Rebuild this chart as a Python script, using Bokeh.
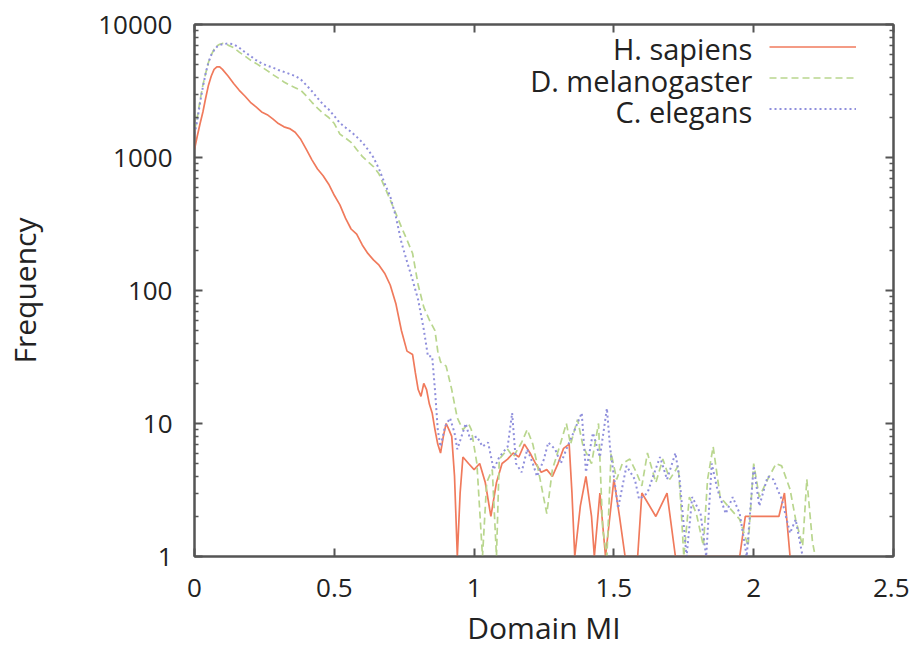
from bokeh.plotting import figure
from bokeh.models import (Range1d, FixedTicker, LinearAxis, LogAxis, Legend,
                          LegendItem, Label)
from bokeh.embed import file_html
from bokeh.resources import INLINE

# ---------------- data ----------------
series_names = ["H. sapiens", "D. melanogaster", "C. elegans"]

hs_x = [0.00, 0.01, 0.02, 0.03, 0.04, 0.05, 0.06, 0.07, 0.08, 0.09, 0.10,
        0.12, 0.14, 0.16, 0.18, 0.20, 0.22, 0.24, 0.26, 0.28, 0.30, 0.32,
        0.34, 0.36, 0.38, 0.40, 0.42, 0.44, 0.46, 0.48, 0.50, 0.52, 0.54,
        0.56, 0.58, 0.60, 0.62, 0.64, 0.66, 0.68, 0.70, 0.72, 0.74, 0.76,
        0.78, 0.79, 0.80, 0.81, 0.82, 0.83, 0.84, 0.85, 0.86, 0.87, 0.88,
        0.89, 0.90, 0.91, 0.92, 0.93, 0.94, 0.95, 0.96, 0.98, 1.00, 1.02,
        1.04, 1.06, 1.08, 1.10, 1.12, 1.14, 1.16, 1.18, 1.20, 1.22, 1.24,
        1.26, 1.28, 1.30, 1.32, 1.34, 1.35, 1.36, 1.38, 1.40, 1.42, 1.43,
        1.45, 1.47, 1.50, 1.52, 1.54, 1.585, 1.60, 1.65, 1.69, 1.72, 1.95,
        1.97, 2.09, 2.11, 2.13]
hs_y = [1150, 1450, 1800, 2200, 2800, 3500, 4100, 4600, 4800, 4800, 4600,
        4100, 3600, 3200, 2900, 2600, 2400, 2200, 2100, 1950, 1800, 1700,
        1650, 1550, 1370, 1150, 960, 820, 730, 630, 520, 440, 350,
        290, 265, 220, 190, 170, 155, 135, 110, 80, 50, 35,
        33, 24, 18, 16, 20, 18, 14, 12, 9, 7, 6,
        8, 10, 9, 8, 4, 1, 3, 5.6, 5, 4.5, 5,
        3.6, 2, 3.6, 5, 5.4, 6, 5.6, 7, 6, 5, 4.3,
        4.5, 4, 5, 6.5, 7, 3, 1, 2.4, 4, 2, 1,
        3, 1, 3.8, 2, 1, 1, 3, 2, 3, 1, 1,
        2, 2, 3, 1]

dm_x = [0.00, 0.01, 0.02, 0.03, 0.04, 0.05, 0.06, 0.07, 0.08, 0.09, 0.10,
        0.11, 0.12, 0.14, 0.16, 0.18, 0.20, 0.22, 0.24, 0.26, 0.28, 0.30,
        0.32, 0.34, 0.36, 0.38, 0.40, 0.42, 0.44, 0.46, 0.48, 0.50, 0.52,
        0.54, 0.56, 0.58, 0.60, 0.62, 0.64, 0.66, 0.68, 0.70, 0.72, 0.74,
        0.76, 0.78, 0.80, 0.82, 0.84, 0.86, 0.87, 0.88, 0.90, 0.92, 0.93,
        0.94, 0.96, 0.98, 0.99, 1.01, 1.03, 1.045, 1.065, 1.08, 1.09, 1.12,
        1.14, 1.17, 1.19, 1.21, 1.225, 1.26, 1.28, 1.31, 1.33, 1.345, 1.37,
        1.39, 1.42, 1.445, 1.46, 1.475, 1.49, 1.51, 1.53, 1.557, 1.58, 1.60,
        1.62, 1.65, 1.675, 1.70, 1.73, 1.74, 1.75, 1.77, 1.795, 1.82, 1.835,
        1.855, 1.88, 1.915, 1.95, 1.98, 2.00, 2.02, 2.05, 2.08, 2.10, 2.13,
        2.15, 2.175, 2.19, 2.21, 2.22]
dm_y = [1600, 2000, 2700, 3500, 4300, 5200, 5900, 6500, 6900, 7100, 7200,
        7200, 7000, 6700, 6200, 5800, 5400, 5100, 4800, 4500, 4200, 3950,
        3700, 3500, 3350, 3200, 2900, 2600, 2350, 2150, 2000, 1800, 1500,
        1400, 1300, 1150, 1020, 930, 855, 750, 600, 480, 380, 300,
        240, 190, 110, 75, 60, 50, 35, 29, 27, 18, 14,
        11, 9, 10, 9, 5, 1, 3.6, 4.5, 1, 5.4, 6.4,
        5.6, 7.2, 9, 7, 5, 2.1, 4.5, 7.2, 10, 7, 10.7,
        6.7, 5, 10, 1.6, 1, 6, 3.8, 5, 5.4, 4.3, 3.4,
        6, 3.6, 5.4, 3.8, 4.8, 2.4, 1, 2.8, 2.1, 1.2, 3.8,
        6.7, 2.8, 2.3, 1.9, 1.2, 5, 2.8, 3.8, 5, 4.8, 3.2,
        1.9, 1.2, 3.8, 1.3, 1]

ce_x = [0.00, 0.01, 0.02, 0.03, 0.04, 0.05, 0.06, 0.07, 0.08, 0.09, 0.10,
        0.12, 0.14, 0.16, 0.18, 0.20, 0.22, 0.24, 0.26, 0.28, 0.30, 0.32,
        0.34, 0.36, 0.38, 0.40, 0.42, 0.44, 0.46, 0.48, 0.50, 0.52, 0.54,
        0.56, 0.58, 0.60, 0.62, 0.64, 0.66, 0.68, 0.70, 0.72, 0.74, 0.76,
        0.78, 0.80, 0.82, 0.835, 0.85, 0.86, 0.87, 0.88, 0.896, 0.914, 0.93,
        0.94, 0.97, 0.986, 1.01, 1.03, 1.05, 1.07, 1.09, 1.12, 1.136, 1.15,
        1.17, 1.19, 1.21, 1.225, 1.25, 1.265, 1.29, 1.31, 1.33, 1.355, 1.385,
        1.40, 1.425, 1.45, 1.475, 1.486, 1.515, 1.545, 1.575, 1.59, 1.62, 1.64,
        1.665, 1.69, 1.72, 1.735, 1.76, 1.78, 1.81, 1.83, 1.85, 1.87, 1.90,
        1.925, 1.95, 1.975, 2.00, 2.02, 2.05, 2.07, 2.10, 2.13, 2.15, 2.175]
ce_y = [1500, 1900, 2600, 3400, 4300, 5200, 5900, 6400, 6800, 7000, 7100,
        7200, 7100, 6700, 6200, 5800, 5400, 5100, 4900, 4750, 4550, 4400,
        4250, 4100, 3870, 3500, 3150, 2800, 2500, 2300, 2050, 1820, 1680,
        1560, 1430, 1300, 1150, 1000, 820, 640, 510, 360, 230, 165,
        120, 85, 51, 32, 32, 18, 9, 6.7, 9.5, 11, 8.5,
        6.4, 10, 7.6, 8, 6.7, 7.2, 4.5, 5.6, 6.7, 12, 5,
        4.3, 6.4, 5, 4, 5.4, 7.2, 6.4, 5, 6.4, 8.5, 12,
        4.3, 8.5, 5.6, 13, 6.7, 2.3, 4.8, 3.8, 2.7, 3, 4,
        5.6, 3.8, 6, 3.8, 1, 2.8, 2.1, 1, 5, 3.2, 2.1,
        2.8, 2.1, 1, 4.8, 2.4, 4, 3.8, 2.7, 1.5, 1.9, 1]

x_ticks = [0, 0.5, 1, 1.5, 2, 2.5]
x_tick_labels = ["0", "0.5", "1", "1.5", "2", "2.5"]
y_ticks = [1, 10, 100, 1000, 10000]
y_tick_labels = ["1", "10", "100", "1000", "10000"]
y_minor = [m * d for d in (1, 10, 100, 1000) for m in range(2, 10)]

# ---------------- figure ----------------
FONT = "Open Sans"
TXT = "#222222"
AX = "#555555"

p = figure(width=909, height=651, output_backend="svg", toolbar_location=None,
           x_range=Range1d(0, 2.5), y_range=Range1d(1, 10000),
           y_axis_type="log",
           min_border_left=194, min_border_right=16,
           min_border_top=24, min_border_bottom=95)
p.grid.visible = False
p.outline_line_color = AX
p.outline_line_width = 2
p.background_fill_color = "white"
p.border_fill_color = "white"

xt = FixedTicker(ticks=x_ticks)
yt = FixedTicker(ticks=y_ticks, minor_ticks=y_minor)

xa = p.xaxis[0]
xa.ticker = xt
xa.major_label_overrides = {t: s for t, s in zip(x_ticks, x_tick_labels)}
ya = p.yaxis[0]
ya.ticker = yt
ya.major_label_overrides = {t: s for t, s in zip(y_ticks, y_tick_labels)}

for ax in (xa, ya):
    ax.axis_line_color = AX
    ax.axis_line_width = 2
    ax.major_tick_line_color = AX
    ax.major_tick_line_width = 2
    ax.minor_tick_line_color = AX
    ax.minor_tick_line_width = 1.5
    ax.major_tick_in = 8
    ax.major_tick_out = 0
    ax.minor_tick_in = 4
    ax.minor_tick_out = 0
    ax.major_label_text_font = FONT
    ax.major_label_text_font_size = "26px"
    ax.major_label_text_color = TXT
    ax.axis_label_text_font = FONT
    ax.axis_label_text_font_size = "30px"
    ax.axis_label_text_font_style = "normal"
    ax.axis_label_text_color = TXT
xa.minor_tick_line_color = None
xa.major_label_standoff = 22
ya.major_label_standoff = 22
xa.axis_label = "Domain MI"
ya.axis_label = "Frequency"
xa.axis_label_standoff = 7
ya.axis_label_standoff = 50

top = LinearAxis(ticker=xt, major_label_overrides={t: "" for t in x_ticks},
                 major_label_standoff=0, axis_line_color=AX, axis_line_width=2,
                 major_tick_line_color=AX, major_tick_line_width=2,
                 major_tick_in=8, major_tick_out=0, minor_tick_line_color=None)
right = LogAxis(ticker=yt, major_label_overrides={t: "" for t in y_ticks},
                major_label_standoff=0, axis_line_color=AX, axis_line_width=2,
                major_tick_line_color=AX, major_tick_line_width=2,
                minor_tick_line_color=AX, minor_tick_line_width=1.5,
                major_tick_in=8, major_tick_out=0, minor_tick_in=4, minor_tick_out=0)
p.add_layout(top, "above")
p.add_layout(right, "right")

colors = ["#f07a5c", "#b9d68e", "#8f8fdc"]
dashes = ["solid", "7 4", "2 3"]
widths = [1.7, 1.7, 2.0]
xs = [hs_x, dm_x, ce_x]
ys = [hs_y, dm_y, ce_y]

renderers = []
for x, y, c, d, w in zip(xs, ys, colors, dashes, widths):
    r = p.line(x, y, line_color=c, line_dash=d, line_width=w)
    renderers.append(r)

# legend: line samples via a Legend, names via right-aligned labels
legend = Legend(items=[LegendItem(label="\u00a0", renderers=[r]) for r in renderers],
                location=(575, 432), orientation="vertical",
                glyph_width=87, glyph_height=31, spacing=0, padding=0, margin=0,
                label_standoff=0, label_width=4, label_height=31,
                label_text_font_size="10px",
                background_fill_alpha=0, border_line_alpha=0)
p.add_layout(legend, "center")

label_x = 1.995
label_y = [6600, 3790, 2210]
for name, ly in zip(series_names, label_y):
    p.add_layout(Label(x=label_x, y=ly, text=name, text_align="right",
                       text_baseline="middle", text_font=FONT,
                       text_font_size="29px", text_color=TXT))

open("out.html", "w").write(file_html(p, INLINE))
